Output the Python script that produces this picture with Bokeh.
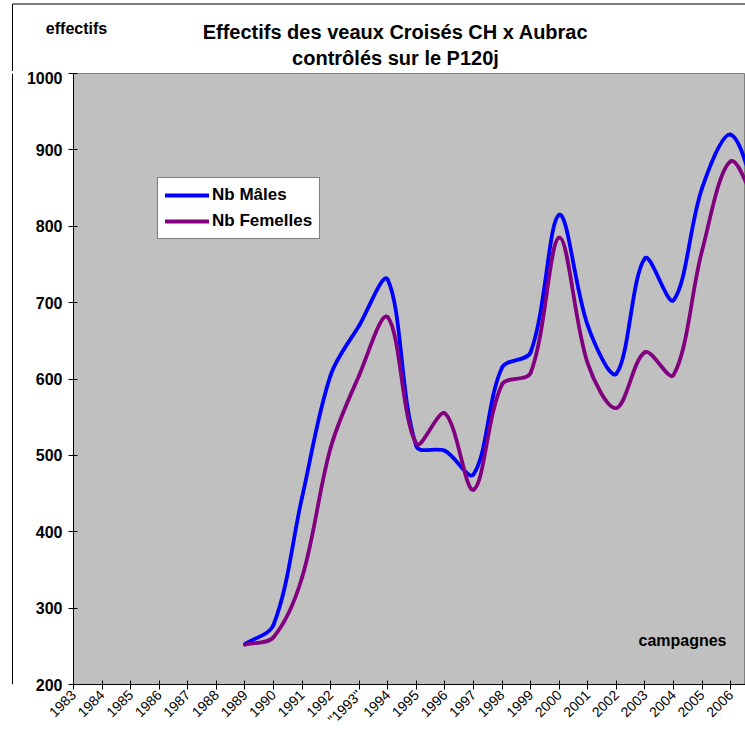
import numpy as np
from bokeh.plotting import figure
from bokeh.layouts import column, row
from bokeh.models import (FixedTicker, Range1d, Label, Legend, LegendItem,
                          ColumnDataSource, Span)
from bokeh.embed import file_html
from bokeh.resources import INLINE
from math import pi

# ---- data ----
tick_labels = ["1983", "1984", "1985", "1986", "1987", "1988", "1989", "1990",
               "1991", "1992", '"1993"', "1994", "1995", "1996", "1997", "1998",
               "1999", "2000", "2001", "2002", "2003", "2004", "2005", "2006", "2007"]
annees = [1989, 1990, 1991, 1992, 1993, 1994, 1995, 1996, 1997, 1998,
          1999, 2000, 2001, 2002, 2003, 2004, 2005, 2006, 2007]
males = [253, 278, 445, 605, 670, 730, 512, 506, 475, 615,
         635, 815, 670, 607, 758, 703, 850, 920, 830]
femelles = [252, 262, 340, 510, 605, 681, 515, 555, 455, 593,
            608, 785, 620, 562, 635, 605, 768, 885, 820]

titre1 = "Effectifs des veaux Croisés CH x Aubrac"
titre2 = "contrôlés sur le P120j"
titre_y = "effectifs"
titre_x = "campagnes"

FONT = "Liberation Sans"
W, H = 745, 747
TOP_H = 71
STRIP_W = 13

# pixel scale of the plot (used only for the smoothing weights)
PX_X = 28.57
PX_Y = 0.7633


def smooth_segments(xv, yv):
    """Excel-like smoothed line: Bezier segments through every data point."""
    x = np.asarray(xv, float)
    y = np.asarray(yv, float)
    xp = np.concatenate([[x[0]], x, [x[-1]]])
    yp = np.concatenate([[y[0]], y, [y[-1]]])

    def dist(i, j):
        return np.hypot((xp[i] - xp[j]) * PX_X, (yp[i] - yp[j]) * PX_Y)

    d = dict(x0=[], y0=[], x1=[], y1=[], cx0=[], cy0=[], cx1=[], cy1=[])
    for i in range(len(x) - 1):
        a, b, c, e = i, i + 1, i + 2, i + 3
        d01, d12, d23 = dist(a, b), dist(b, c), dist(c, e)
        f1 = d12 / (d01 + d12) / 3.0 if d01 + d12 > 0 else 0
        f2 = d12 / (d12 + d23) / 3.0 if d12 + d23 > 0 else 0
        d["x0"].append(xp[b]); d["y0"].append(yp[b])
        d["x1"].append(xp[c]); d["y1"].append(yp[c])
        d["cx0"].append(xp[b] + (xp[c] - xp[a]) * f1)
        d["cy0"].append(yp[b] + (yp[c] - yp[a]) * f1)
        d["cx1"].append(xp[c] - (xp[e] - xp[b]) * f2)
        d["cy1"].append(yp[c] - (yp[e] - yp[b]) * f2)
    return ColumnDataSource(d)


xpos = [a - 1983 for a in annees]

# ---- top strip with titles ----
top = figure(width=W, height=TOP_H, output_backend="svg", toolbar_location=None,
             x_range=Range1d(0, W), y_range=Range1d(TOP_H, 0),
             x_axis_location=None, y_axis_location=None,
             min_border=0, outline_line_color=None, background_fill_color="white",
             border_fill_color="white")
top.xgrid.visible = False
top.ygrid.visible = False
top.segment(x0=[12, 12], y0=[3.5, 3.5], x1=[W, 12], y1=[3.5, TOP_H],
            line_color="black", line_width=1)
for txt, yy in ((titre1, 31), (titre2, 57)):
    top.add_layout(Label(x=395, y=yy, text=txt, text_font=FONT, text_font_size="20px",
                         text_font_style="bold", text_color="black",
                         text_align="center", text_baseline="middle"))
top.add_layout(Label(x=76, y=28, text=titre_y, text_font=FONT, text_font_size="16px",
                     text_font_style="bold", text_color="black",
                     text_align="center", text_baseline="middle"))

# ---- left strip with the chart border ----
strip = figure(width=STRIP_W, height=H - TOP_H, output_backend="svg",
               toolbar_location=None, x_range=Range1d(0, STRIP_W),
               y_range=Range1d(0, 1), x_axis_location=None, y_axis_location=None,
               min_border=0, outline_line_color=None, background_fill_color="white",
               border_fill_color="white")
strip.xgrid.visible = False
strip.ygrid.visible = False
strip.add_layout(Span(location=12, dimension="height", line_color="black", line_width=1))

# ---- main chart ----
MAIN_W = W - STRIP_W
p = figure(width=MAIN_W, height=H - TOP_H, output_backend="svg", toolbar_location=None,
           x_range=Range1d(0, 23.52), y_range=Range1d(200, 1000),
           min_border_left=73 - STRIP_W, min_border_right=0, min_border_top=2,
           min_border_bottom=H - 684, background_fill_color="#C0C0C0",
           border_fill_color="white", outline_line_color="#808080")

p.xgrid.visible = False
p.ygrid.visible = False

p.yaxis.ticker = FixedTicker(ticks=[200, 300, 400, 500, 600, 700, 800, 900, 1000])
p.xaxis.ticker = FixedTicker(ticks=list(range(len(tick_labels))))
p.xaxis.major_label_overrides = {i: t for i, t in enumerate(tick_labels)}
for ax in (p.xaxis[0], p.yaxis[0]):
    ax.axis_line_color = "black"
    ax.major_tick_line_color = "black"
    ax.minor_tick_line_color = None
    ax.major_tick_in = 4
    ax.major_tick_out = 5
    ax.major_label_text_font = FONT
    ax.major_label_text_color = "black"
p.yaxis.major_label_text_font_size = "16px"
p.yaxis.major_label_text_font_style = "bold"
p.yaxis.major_label_standoff = 6
p.xaxis.major_label_text_font_size = "14px"
p.xaxis.major_label_orientation = pi / 4
p.xaxis.major_label_standoff = 3

r_m = p.bezier(x0="x0", y0="y0", x1="x1", y1="y1", cx0="cx0", cy0="cy0",
               cx1="cx1", cy1="cy1", source=smooth_segments(xpos, males),
               line_color="#0000FF", line_width=3.8, line_cap="round")
r_f = p.bezier(x0="x0", y0="y0", x1="x1", y1="y1", cx0="cx0", cy0="cy0",
               cx1="cx1", cy1="cy1", source=smooth_segments(xpos, femelles),
               line_color="#800080", line_width=3.8, line_cap="round")

legend = Legend(items=[LegendItem(label="Nb Mâles", renderers=[r_m]),
                       LegendItem(label="Nb Femelles", renderers=[r_f])],
                location=(84, 445), background_fill_color="white",
                background_fill_alpha=1.0, border_line_color="black",
                border_line_width=1, label_text_font=FONT,
                label_text_font_size="17px", label_text_font_style="bold",
                label_text_color="black",
                glyph_width=44, glyph_height=20, label_height=20,
                label_standoff=3, spacing=6, padding=7, margin=0)
p.add_layout(legend, "center")

p.add_layout(Label(x=609, y=44, x_units="screen", y_units="screen",
                   text=titre_x, text_font=FONT, text_font_size="16px",
                   text_font_style="bold", text_color="black", text_align="center",
                   text_baseline="middle"))

layout = column(top, row(strip, p))
open("out.html", "w").write(file_html(layout, INLINE))
